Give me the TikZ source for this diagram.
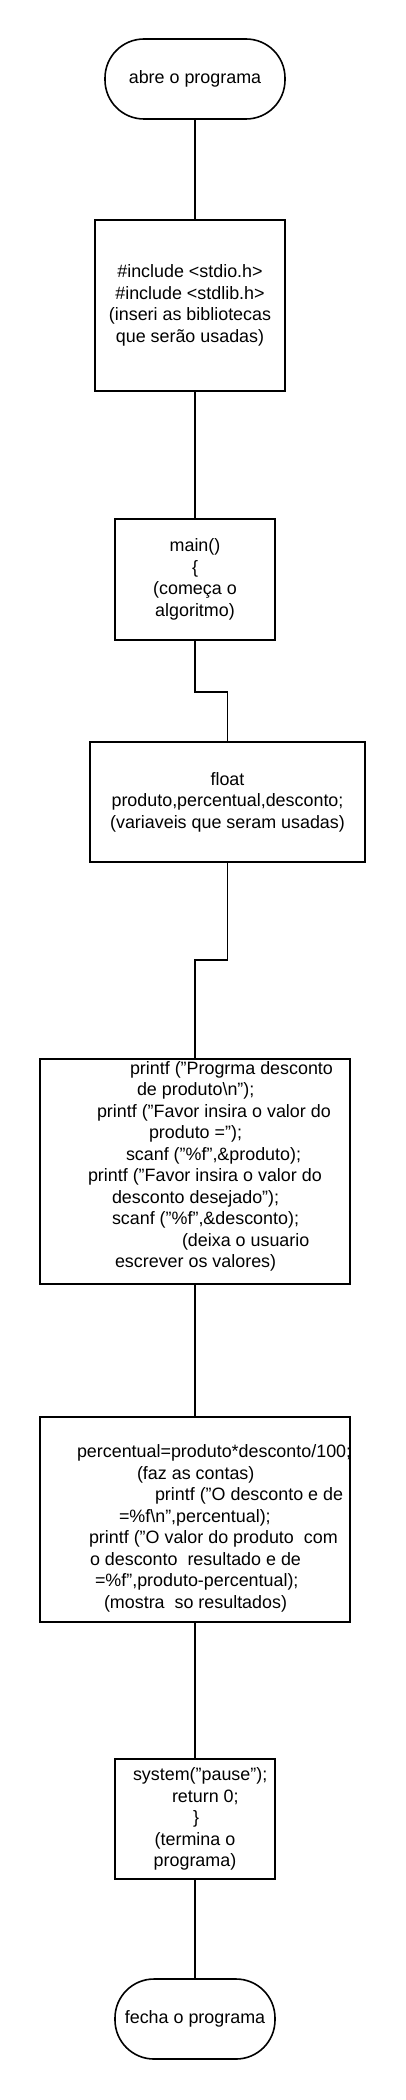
\documentclass[tikz,border=0pt]{standalone}
\usepackage{fontspec}
\setmainfont{Liberation Sans}
\newcommand{\linha}[3]{\makebox[#1pt][l]{\hspace*{#2pt}#3}}

\begin{document}
\begin{tikzpicture}[x=1pt, y=-1pt, line width=1.6pt,
  every node/.style={font=\fontsize{17.9}{21.5}\selectfont, inner sep=0pt, align=center},
  term/.style={draw, rounded corners=39pt, minimum height=80pt},
  proc/.style={draw, rectangle}]
\useasboundingbox (0,0) rectangle (405,2100);

\node[term, minimum width=180pt] (abre) at (195,79) {abre o programa};
\node[proc, minimum width=190pt, minimum height=171pt] (incl) at (190,305.5)
  {\#include <stdio.h>\\ \#include <stdlib.h>\\ (inseri as bibliotecas\\ que serão usadas)};
\node[proc, minimum width=160pt, minimum height=121pt] (mainf) at (195,579.5)
  {main()\\ \{\\ (começa o\\ algoritmo)};
\node[proc, minimum width=275pt, minimum height=120pt] (vars) at (227.5,802)
  {float\\ produto,percentual,desconto;\\ (variaveis que seram usadas)};
\node[proc, minimum width=310pt, minimum height=225pt] (entrada) at (195,1171.5)
  {\linha{310}{90}{printf ("Progrma desconto}\\
   \linha{310}{97}{de produto\textbackslash n");}\\
   \linha{310}{57}{printf ("Favor insira o valor do}\\
   \linha{310}{109}{produto =");}\\
   \linha{310}{86}{scanf ("\%f",\&produto);}\\
   \linha{310}{48}{printf ("Favor insira o valor do}\\
   \linha{310}{72}{desconto desejado");}\\
   \linha{310}{72}{scanf ("\%f",\&desconto);}\\
   \linha{310}{142}{(deixa o usuario}\\
   \linha{310}{75}{escrever os valores)\rule[-14pt]{0pt}{14pt}}};
\node[proc, minimum width=310pt, minimum height=205pt] (contas) at (195,1519.5)
  {\linha{310}{37}{\rule{0pt}{31pt}percentual=produto*desconto/100;}\\
   \linha{310}{97}{(faz as contas)}\\
   \linha{310}{115}{printf ("O desconto e de}\\
   \linha{310}{79}{=\%f\textbackslash n",percentual);}\\
   \linha{310}{49}{printf ("O valor do produto \ com}\\
   \linha{310}{50}{o desconto \ resultado e de}\\
   \linha{310}{55}{=\%f",produto-percentual);}\\
   \linha{310}{64}{(mostra \ so resultados)}};
\node[proc, minimum width=160pt, minimum height=120pt] (termina) at (195,1819)
  {\linha{160}{18}{system("pause");}\\
   \linha{160}{57}{return 0;}\\
   \linha{160}{78}{\}}\\
   (termina o\\ programa)};
\node[term, minimum width=160pt] (fecha) at (195,2019) {fecha o programa};

\draw (abre.south) -- (abre.south |- incl.north);
\draw (mainf.north |- incl.south) -- (mainf.north);
\draw (mainf.south) -- ++(0,51) -| (vars.north);
\draw (vars.south) -- ++(0,97) -| (entrada.north);
\draw (entrada.south) -- (contas.north);
\draw (contas.south) -- (termina.north);
\draw (termina.south) -- (fecha.north);
\end{tikzpicture}
\end{document}
